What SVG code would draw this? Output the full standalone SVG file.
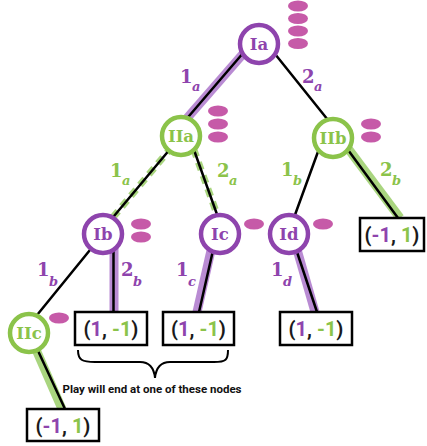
<svg xmlns="http://www.w3.org/2000/svg" width="427" height="446" viewBox="0 0 427 446">
  <defs>
    <style>
      .ring1 { fill: #ffffff; stroke: #8e44ad; stroke-width: 4.5; }
      .ring2 { fill: #ffffff; stroke: #8bc34a; stroke-width: 4.5; }
      .nl1 { font-family: "DejaVu Serif", serif; font-weight: bold; font-size: 16.5px; fill: #8e44ad; text-anchor: middle; }
      .nl2 { font-family: "DejaVu Serif", serif; font-weight: bold; font-size: 16.5px; fill: #8bc34a; text-anchor: middle; }
      .dot { fill: #c65aa8; }
      .edge { stroke: #000000; stroke-width: 2.5; fill: none; stroke-linecap: round; }
      .hl1 { stroke: #b98bd3; stroke-width: 9; fill: none; }
      .hl2 { stroke: #a9d57f; stroke-width: 9; fill: none; }
      .hl2d { stroke: #a9d57f; stroke-width: 7; fill: none; stroke-dasharray: 8 6; }
      .lab { font-family: "DejaVu Serif", serif; font-weight: bold; font-size: 18px; }
      .sub { font-family: "DejaVu Serif", serif; font-style: italic; font-weight: bold; font-size: 13px; }
      .p { fill: #8e44ad; }
      .g { fill: #8bc34a; }
      .box { fill: #ffffff; stroke: #000000; stroke-width: 2.5; }
      .pay { font-family: Roboto, "Liberation Sans", sans-serif; font-weight: bold; font-size: 20px; fill: #1a1a1a; text-anchor: middle; }
      .note { font-family: Roboto, "Liberation Sans", sans-serif; font-weight: bold; font-size: 11.5px; fill: #111111; text-anchor: middle; }
    </style>
  </defs>

  <!-- connectors: highlight bands first, then the black edges -->
  <g id="connectors">
    <line class="hl1" x1="249" y1="47" x2="175" y2="132"/>
    <line class="hl2d" x1="181" y1="136" x2="99" y2="234"/>
    <line class="hl2d" x1="189" y1="136" x2="224" y2="234"/>
    <line class="hl2" x1="341" y1="139" x2="400" y2="218"/>
    <line class="hl1" x1="114" y1="240" x2="114" y2="312"/>
    <line class="hl1" x1="212" y1="246" x2="197" y2="312"/>
    <line class="hl1" x1="296" y1="246" x2="315" y2="312"/>
    <line class="hl2" x1="34" y1="345" x2="62" y2="409"/>

    <line class="edge" x1="250" y1="45" x2="177" y2="130"/>
    <line class="edge" x1="267" y1="44" x2="336" y2="130"/>
    <line class="edge" x1="181" y1="136" x2="99" y2="234"/>
    <line class="edge" x1="189" y1="136" x2="224" y2="234"/>
    <line class="edge" x1="323" y1="138" x2="288" y2="234"/>
    <line class="edge" x1="340" y1="139" x2="398" y2="218"/>
    <line class="edge" x1="103" y1="234" x2="33" y2="320"/>
    <line class="edge" x1="113.5" y1="240" x2="113.5" y2="312"/>
    <line class="edge" x1="214" y1="246" x2="199" y2="312"/>
    <line class="edge" x1="295" y1="246" x2="317" y2="312"/>
    <line class="edge" x1="33" y1="340" x2="65" y2="409"/>

    <!-- move labels -->
    <text class="lab p" x="180" y="83">1</text><text class="sub p" x="192" y="91">a</text>
    <text class="lab p" x="302" y="83">2</text><text class="sub p" x="314" y="91">a</text>
    <text class="lab g" x="110" y="177">1</text><text class="sub g" x="122" y="185">a</text>
    <text class="lab g" x="217" y="177">2</text><text class="sub g" x="229" y="185">a</text>
    <text class="lab g" x="281" y="176">1</text><text class="sub g" x="293" y="185">b</text>
    <text class="lab g" x="380" y="176">2</text><text class="sub g" x="392" y="185">b</text>
    <text class="lab p" x="37" y="276">1</text><text class="sub p" x="49" y="286">b</text>
    <text class="lab p" x="121" y="276">2</text><text class="sub p" x="133" y="286">b</text>
    <text class="lab p" x="176" y="276">1</text><text class="sub p" x="188" y="286">c</text>
    <text class="lab p" x="271" y="276">1</text><text class="sub p" x="283" y="286">d</text>
  </g>

  <!-- decision nodes -->
  <g id="Ia">
    <circle class="ring1" cx="259" cy="44" r="19"/>
    <text class="nl1" x="259" y="50">Ia</text>
    <ellipse class="dot" cx="298" cy="6" rx="10" ry="5.5"/>
    <ellipse class="dot" cx="298" cy="18.5" rx="10" ry="5.5"/>
    <ellipse class="dot" cx="298" cy="31" rx="10" ry="5.5"/>
    <ellipse class="dot" cx="298" cy="43.5" rx="10" ry="5.5"/>
  </g>
  <g id="IIa">
    <circle class="ring2" cx="181" cy="136" r="19"/>
    <text class="nl2" x="181" y="142">IIa</text>
    <ellipse class="dot" cx="218" cy="111" rx="10" ry="5.5"/>
    <ellipse class="dot" cx="218" cy="124" rx="10" ry="5.5"/>
    <ellipse class="dot" cx="218" cy="137" rx="10" ry="5.5"/>
  </g>
  <g id="IIb">
    <circle class="ring2" cx="333" cy="138" r="19"/>
    <text class="nl2" x="333" y="144">IIb</text>
    <ellipse class="dot" cx="371" cy="124" rx="10" ry="5.5"/>
    <ellipse class="dot" cx="371" cy="137" rx="10" ry="5.5"/>
  </g>
  <g id="Ib">
    <circle class="ring1" cx="103" cy="234" r="19"/>
    <text class="nl1" x="103" y="240">Ib</text>
    <ellipse class="dot" cx="141" cy="224" rx="10" ry="5.5"/>
    <ellipse class="dot" cx="141" cy="237" rx="10" ry="5.5"/>
  </g>
  <g id="Ic">
    <circle class="ring1" cx="220" cy="234" r="19"/>
    <text class="nl1" x="220" y="240">Ic</text>
    <ellipse class="dot" cx="254" cy="224" rx="10" ry="5.5"/>
  </g>
  <g id="Id">
    <circle class="ring1" cx="289" cy="234" r="19"/>
    <text class="nl1" x="289" y="240">Id</text>
    <ellipse class="dot" cx="323" cy="224" rx="10" ry="5.5"/>
  </g>
  <g id="IIc">
    <circle class="ring2" cx="29" cy="333" r="19"/>
    <text class="nl2" x="29" y="339">IIc</text>
    <ellipse class="dot" cx="59" cy="318" rx="10" ry="5.5"/>
  </g>

  <!-- payoff leaves -->
  <g id="leaf-b">
    <rect class="box" x="75" y="312" width="72" height="33"/>
    <text class="pay" x="111" y="336">(<tspan class="p">1</tspan>, <tspan class="g">-1</tspan>)</text>
  </g>
  <g id="leaf-c">
    <rect class="box" x="163" y="312" width="71" height="33"/>
    <text class="pay" x="198.5" y="336">(<tspan class="p">1</tspan>, <tspan class="g">-1</tspan>)</text>
  </g>
  <g id="leaf-d">
    <rect class="box" x="280" y="312" width="72" height="33"/>
    <text class="pay" x="316" y="336">(<tspan class="p">1</tspan>, <tspan class="g">-1</tspan>)</text>
  </g>
  <g id="leaf-IIb">
    <rect class="box" x="360" y="218" width="64" height="33"/>
    <text class="pay" x="392" y="242">(<tspan class="p">-1</tspan>, <tspan class="g">1</tspan>)</text>
  </g>
  <g id="leaf-IIc">
    <rect class="box" x="27" y="409" width="72" height="32"/>
    <text class="pay" x="63" y="432.5">(<tspan class="p">-1</tspan>, <tspan class="g">1</tspan>)</text>
  </g>

  <!-- brace and note -->
  <g id="note">
    <path d="M78,350 C78,360 82,362 95,362 L140,362 C150,362 154,368 155,378 C156,368 160,362 170,362 L214,362 C226,362 228,360 228,350" fill="none" stroke="#000000" stroke-width="2"/>
    <text class="note" x="152" y="393">Play will end at one of these nodes</text>
  </g>
</svg>
